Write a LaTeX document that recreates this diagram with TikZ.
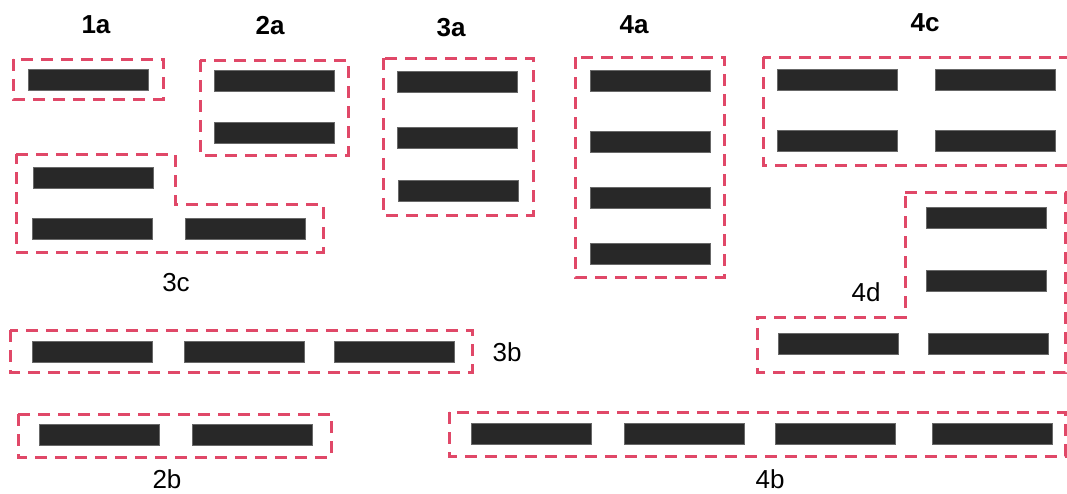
\documentclass[tikz,border=0pt]{standalone}
\usepackage{fontspec}
\setmainfont{Liberation Sans}
\usepackage{tikz}
\usetikzlibrary{positioning}
\definecolor{grpred}{RGB}{224,72,104}
\definecolor{bardark}{RGB}{40,40,40}

\begin{document}
\begin{tikzpicture}[x=1pt, y=-1pt,
    bar/.style={fill=bardark, draw=bardark!70!white, line width=0.6pt, minimum width=120pt, minimum height=21pt, inner sep=0pt},
    grp/.style={draw=grpred, line width=3pt, dash pattern=on 12pt off 8pt},
    toplbl/.style={font=\fontsize{26}{30}\selectfont\bfseries},
    lbl/.style={font=\fontsize{26}{30}\selectfont}]
  \useasboundingbox (0,0) rectangle (1067,493);

  % Labels
  \node[toplbl] (l1a) at (96,25) {1a};
  \node[toplbl] (l2a) at (270,26) {2a};
  \node[toplbl] (l3a) at (451,28) {3a};
  \node[toplbl] (l4a) at (634,25) {4a};
  \node[toplbl] (l4c) at (925,23) {4c};
  \node[lbl] (l3c) at (176,283) {3c};
  \node[lbl] (l4d) at (866,292) {4d};
  \node[lbl] (l3b) at (507,352) {3b};
  \node[lbl] (l2b) at (167,479) {2b};
  \node[lbl] (l4b) at (770,479) {4b};

  % Bars
  \node[bar] (b1a) at (88,80) {};
  \node[bar] (b2a1) at (274,81) {};
  \node[bar] (b2a2) at (274,133) {};
  \node[bar] (b3a1) at (457,82) {};
  \node[bar] (b3a2) at (457,138) {};
  \node[bar] (b3a3) at (458,191) {};
  \node[bar] (b4a1) at (650,81) {};
  \node[bar] (b4a2) at (650,142) {};
  \node[bar] (b4a3) at (650,198) {};
  \node[bar] (b4a4) at (650,254) {};
  \node[bar] (b4c1) at (837,80) {};
  \node[bar] (b4c2) at (995,80) {};
  \node[bar] (b4c3) at (837,141) {};
  \node[bar] (b4c4) at (995,141) {};
  \node[bar] (b3c1) at (93,178) {};
  \node[bar] (b3c2) at (92,229) {};
  \node[bar] (b3c3) at (245,229) {};
  \node[bar] (b3b1) at (92,352) {};
  \node[bar] (b3b2) at (244,352) {};
  \node[bar] (b3b3) at (394,352) {};
  \node[bar] (b2b1) at (99,435) {};
  \node[bar] (b2b2) at (252,435) {};
  \node[bar] (b4b1) at (531,434) {};
  \node[bar] (b4b2) at (684,434) {};
  \node[bar] (b4b3) at (835,434) {};
  \node[bar] (b4b4) at (992,434) {};
  \node[bar] (b4d1) at (986,218) {};
  \node[bar] (b4d2) at (986,281) {};
  \node[bar] (b4d3) at (838,344) {};
  \node[bar] (b4d4) at (988,344) {};

  % Groups
  \draw[grp] (13,59) rectangle (163,99);
  \draw[grp] (200,60) rectangle (348,155);
  \draw[grp] (383,58) rectangle (533,215);
  \draw[grp] (575,57) rectangle (724,277);
  \draw[grp] (763,57) rectangle (1069,165);
  \draw[grp] (16,154) -- (175,154) -- (175,204) -- (323,204) -- (323,252) -- (16,252) -- cycle;
  \draw[grp] (10,330) rectangle (472,372);
  \draw[grp] (18,414) rectangle (331,457);
  \draw[grp] (449,412) rectangle (1065,456);
  \draw[grp] (905,192) -- (1065,192) -- (1065,372) -- (757,372) -- (757,317) -- (905,317) -- cycle;
\end{tikzpicture}
\end{document}
